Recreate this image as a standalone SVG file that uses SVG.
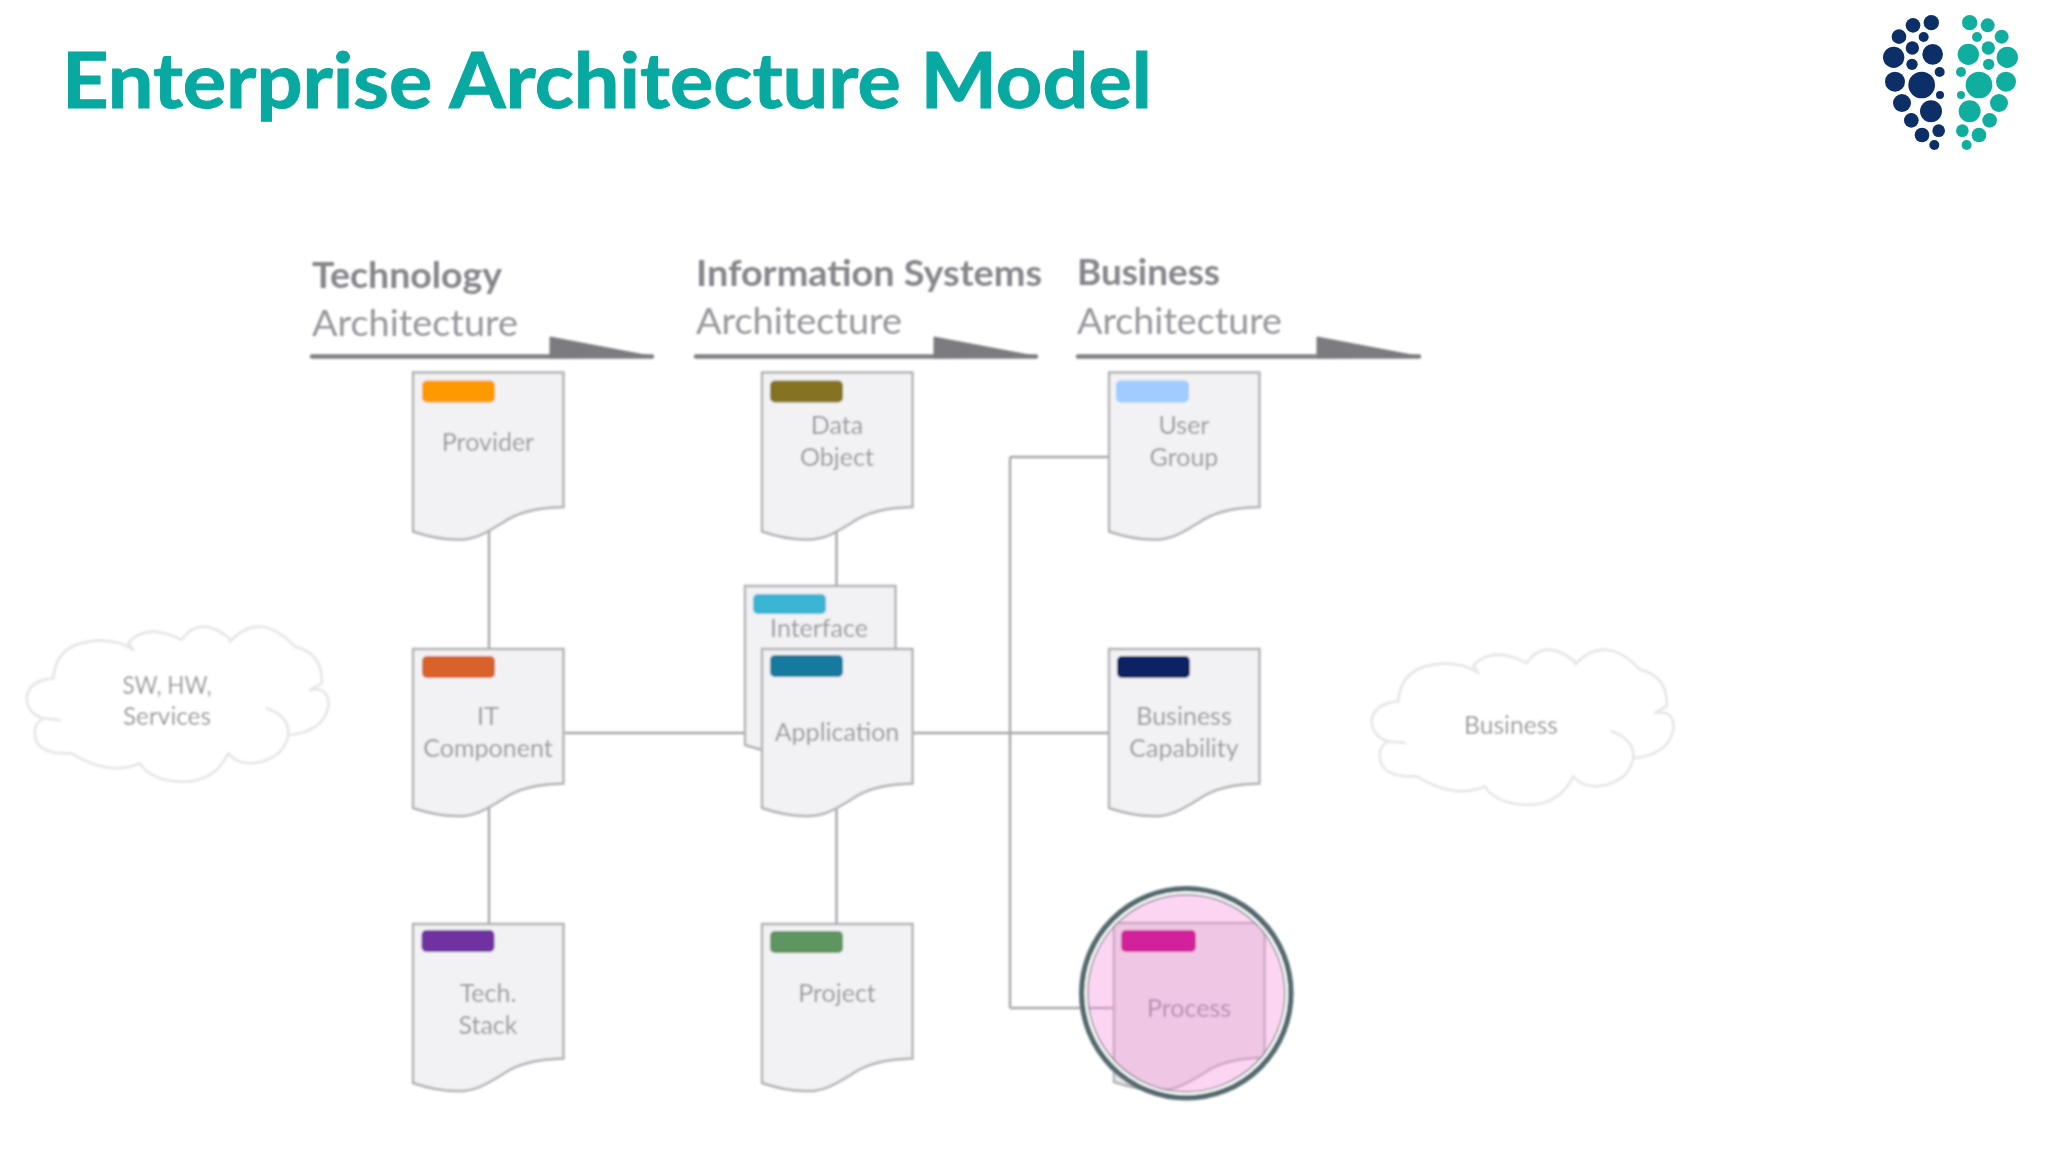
<svg xmlns="http://www.w3.org/2000/svg" xmlns:xlink="http://www.w3.org/1999/xlink" width="2048" height="1152" viewBox="0 0 2048 1152">
<style>
.title{font-family:"Lato","Liberation Sans",sans-serif;font-weight:700;font-size:76px;fill:#07a9a0;stroke:#07a9a0;stroke-width:1}
.hb{font-family:"Lato","Liberation Sans",sans-serif;font-weight:700;font-size:37px;fill:#85858b}
.hr{font-family:"Lato","Liberation Sans",sans-serif;font-weight:400;font-size:37px;fill:#95959b}
.lb{font-family:"Lato","Liberation Sans",sans-serif;font-size:25px;fill:#9a9a9f;text-anchor:middle}
.doc{fill:#f2f2f4;stroke:#b2b2b6;stroke-width:2.4}
.tab{stroke:none}
.con{fill:none;stroke:#a8a8ac;stroke-width:2.4}
.hl{fill:none;stroke:#808085;stroke-width:4.4;stroke-linecap:round}
.wedge{fill:#7b7b80;stroke:#7b7b80;stroke-width:1;stroke-linejoin:round}
.cloud{fill:#ffffff;stroke:#e6e6e8;stroke-width:8;stroke-linejoin:round}
.n{fill:#0b2f66}.t{fill:#10ae9f}
</style>
<defs>
<filter id="soft" x="-5%" y="-5%" width="110%" height="110%"><feGaussianBlur stdDeviation="1"/></filter>
<path id="docShape" d="M0,0H150.500V134.500C124,135 104,140 90,150C75,159 62,168 43,167C28,167 15,164 0,159Z"/>
<path id="cloudShape" transform="scale(.3333)" d="M160,235Q165,130 290,122Q360,120 400,150L385,128Q440,66 545,120Q600,40 695,120L690,125Q780,28 885,140Q970,160 965,250L930,270Q990,260 985,320Q970,395 865,405Q870,350 800,325Q870,350 865,405Q850,480 755,490Q710,490 685,460Q640,550 540,545Q450,540 420,490Q330,530 215,460Q110,465 105,405Q100,370 130,355L180,360L130,355Q80,340 80,290Q90,240 160,235Z"/>
</defs>
<rect width="2048" height="1152" fill="#fff"/>
<text id="title" class="title" x="62" y="108" textLength="1090" lengthAdjust="spacingAndGlyphs">Enterprise Architecture Model</text>
<g id="logo" transform="translate(1860 0) scale(.3333)">
<g class="n"><circle cx="214" cy="68" r="23"/><circle cx="159" cy="76" r="22"/><circle cx="117" cy="110" r="22"/><circle cx="191" cy="111" r="15"/><circle cx="157" cy="144" r="20"/><circle cx="101" cy="172" r="32"/><circle cx="218" cy="163" r="31"/><circle cx="156" cy="193" r="17"/><circle cx="239" cy="216" r="15"/><circle cx="105" cy="245" r="30"/><circle cx="185" cy="255" r="40"/><circle cx="240" cy="285" r="12"/><circle cx="126" cy="309" r="27"/><circle cx="213" cy="334" r="33"/><circle cx="154" cy="361" r="22"/><circle cx="236" cy="392" r="19"/><circle cx="186" cy="405" r="22"/><circle cx="223" cy="435" r="15"/></g>
<g class="t"><circle cx="329" cy="68" r="23"/><circle cx="383" cy="76" r="21"/><circle cx="425" cy="110" r="21"/><circle cx="351" cy="111" r="15"/><circle cx="385" cy="144" r="20"/><circle cx="325" cy="163" r="32"/><circle cx="442" cy="172" r="32"/><circle cx="386" cy="193" r="17"/><circle cx="303" cy="216" r="15"/><circle cx="357" cy="255" r="40"/><circle cx="438" cy="245" r="30"/><circle cx="303" cy="285" r="12"/><circle cx="417" cy="309" r="27"/><circle cx="329" cy="334" r="33"/><circle cx="389" cy="361" r="22"/><circle cx="307" cy="392" r="19"/><circle cx="357" cy="405" r="22"/><circle cx="320" cy="435" r="15"/></g>
</g>
<g id="diagram" filter="url(#soft)">
<g id="heading-technology"><text class="hb" x="312" y="288" textLength="190" lengthAdjust="spacingAndGlyphs">Technology</text><text class="hr" x="312" y="336" textLength="206" lengthAdjust="spacingAndGlyphs">Architecture</text><path class="hl" d="M312,356.500H652"/><path class="wedge" d="M550,337L653,356.500L550,358Z"/></g>
<g id="heading-information"><text class="hb" x="696" y="286" textLength="346" lengthAdjust="spacingAndGlyphs">Information Systems</text><text class="hr" x="696" y="334" textLength="206" lengthAdjust="spacingAndGlyphs">Architecture</text><path class="hl" d="M696,356.500H1036"/><path class="wedge" d="M934,337L1037,356.500L934,358Z"/></g>
<g id="heading-business"><text class="hb" x="1077" y="285" textLength="143" lengthAdjust="spacingAndGlyphs">Business</text><text class="hr" x="1077" y="334" textLength="205" lengthAdjust="spacingAndGlyphs">Architecture</text><path class="hl" d="M1078,356.500H1419"/><path class="wedge" d="M1317,337L1420,356.500L1317,358Z"/></g>
<g id="connectors">
<path class="con" d="M489,530V649M489,805V924M836.500,530V586M836.500,805V924M565,733H744M912,733H1109M1010,457V1008M1010,457H1109M1010,1008H1118"/>
</g>
<g id="cloud-sw"><use href="#cloudShape" class="cloud" transform="translate(0 600)"/><text class="lb" x="167" y="694" textLength="89" lengthAdjust="spacingAndGlyphs">SW, HW,</text><text class="lb" x="167" y="725" textLength="88" lengthAdjust="spacingAndGlyphs">Services</text></g>
<g id="cloud-business"><use href="#cloudShape" class="cloud" transform="translate(1345 623)"/><text class="lb" x="1511" y="734" textLength="94" lengthAdjust="spacingAndGlyphs">Business</text></g>
<g id="node-provider" transform="translate(413 372.500)"><use href="#docShape" class="doc"/><rect class="tab" x="9" y="8" width="73" height="22" rx="5" fill="#ff9900"/><text class="lb" x="75" y="78">Provider</text></g>
<g id="node-data-object" transform="translate(762 372.500)"><use href="#docShape" class="doc"/><rect class="tab" x="8" y="8" width="73" height="22" rx="5" fill="#857320"/><text class="lb" x="75" y="61">Data</text><text class="lb" x="75" y="93">Object</text></g>
<g id="node-user-group" transform="translate(1109 372.500)"><use href="#docShape" class="doc"/><rect class="tab" x="7" y="8" width="73" height="22" rx="5" fill="#a0ccff"/><text class="lb" x="75" y="61">User</text><text class="lb" x="75" y="93">Group</text></g>
<g id="node-it-component" transform="translate(413 649)"><use href="#docShape" class="doc"/><rect class="tab" x="9" y="7" width="73" height="22" rx="5" fill="#d9622c"/><text class="lb" x="75" y="76">IT</text><text class="lb" x="75" y="108">Component</text></g>
<g id="node-interface" transform="translate(745 586)"><use href="#docShape" class="doc"/><rect class="tab" x="8" y="8" width="73" height="20" rx="5" fill="#3bb5d3"/><text class="lb" x="74" y="51">Interface</text></g>
<g id="node-application" transform="translate(762 649)"><use href="#docShape" class="doc"/><rect class="tab" x="8" y="6" width="73" height="22" rx="5" fill="#137a9e"/><text class="lb" x="75" y="92">Application</text></g>
<g id="node-business-capability" transform="translate(1109 649)"><use href="#docShape" class="doc"/><rect class="tab" x="8" y="7" width="73" height="22" rx="5" fill="#0a2463"/><text class="lb" x="75" y="76">Business</text><text class="lb" x="75" y="108">Capability</text></g>
<g id="node-tech-stack" transform="translate(413 924)"><use href="#docShape" class="doc"/><rect class="tab" x="8.500" y="6" width="73" height="22" rx="5" fill="#7030a0"/><text class="lb" x="75" y="78">Tech.</text><text class="lb" x="75" y="110">Stack</text></g>
<g id="node-project" transform="translate(762 924)"><use href="#docShape" class="doc"/><rect class="tab" x="8" y="7" width="73" height="22" rx="5" fill="#5f9560"/><text class="lb" x="75" y="78">Project</text></g>
<g id="node-process">
<use href="#docShape" class="doc" transform="translate(1114 923)" style="fill:#ebe6ea"/>
<text class="lb" x="1189" y="1017" style="fill:#8a8a90">Process</text>
<circle cx="1186.3" cy="993.3" r="99" fill="#f796de" fill-opacity=".4"/>
<rect class="tab" x="1121" y="930" width="75" height="22" rx="5" fill="#d1209c"/>
<circle cx="1186.3" cy="993.3" r="104.500" fill="none" stroke="#546a70" stroke-width="5.600"/>
<circle cx="1186.3" cy="993.3" r="100.500" fill="none" stroke="#fff" stroke-width="2.400"/>
<circle cx="1186.3" cy="993.3" r="98.600" fill="none" stroke="#6a7b80" stroke-width="1.200"/>
</g>
</g>
</svg>
